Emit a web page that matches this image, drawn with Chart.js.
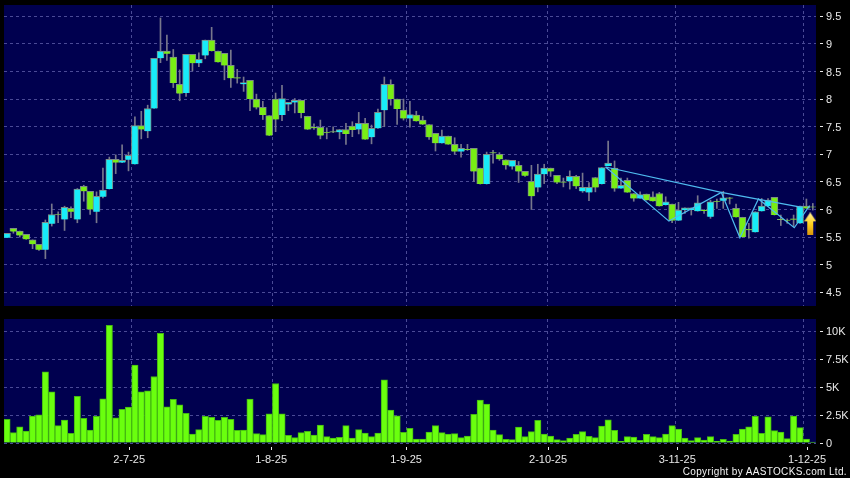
<!DOCTYPE html>
<html>
<head>
<meta charset="utf-8">
<script src="https://cdn.jsdelivr.net/npm/chart.js@4"></script>
<style>
html, body { margin: 0; padding: 0; background: #000; }
#wrap { position: relative; width: 850px; height: 478px; overflow: hidden; background: #000; }
#priceBox { position: absolute; left: 0; top: 0; width: 850px; height: 312px; }
#volBox { position: absolute; left: 0; top: 312px; width: 850px; height: 166px; }
#copy { position: absolute; right: 3px; top: 466px; font: 10px "Liberation Sans", Arial, sans-serif; letter-spacing: 0.35px; color: #f4f4f4; white-space: nowrap; }
</style>
</head>
<body>
<div id="wrap">
  <div id="priceBox"><canvas id="priceChart" width="850" height="312"></canvas></div>
  <div id="volBox"><canvas id="volChart" width="850" height="166"></canvas></div>
  <div id="copy">Copyright by AASTOCKS.com Ltd.</div>
</div>
<script>
// daily candles
const opens = [5.49,5.66,5.61,5.55,5.45,5.37,5.27,5.74,5.91,5.82,6.02,5.82,6.42,6.33,5.96,6.23,6.37,6.91,6.85,6.90,6.82,7.52,7.42,7.83,8.74,8.87,8.76,8.27,8.11,8.81,8.65,8.79,9.07,8.87,8.83,8.61,8.39,8.27,8.34,8.00,7.85,7.70,8.00,7.71,7.91,7.94,7.98,7.69,7.49,7.49,7.40,7.41,7.40,7.45,7.51,7.45,7.56,7.31,7.47,7.80,8.27,8.00,7.80,7.65,7.71,7.62,7.54,7.38,7.20,7.33,7.18,7.05,7.09,7.11,6.75,6.46,7.03,7.00,6.90,6.78,6.80,6.69,6.51,6.40,6.64,6.75,6.62,6.50,6.51,6.60,6.33,6.31,6.58,6.46,6.79,6.75,6.38,6.53,6.29,6.20,6.28,6.23,6.29,6.08,6.10,5.80,5.99,5.99,5.97,5.99,5.87,6.15,6.16,6.21,6.02,5.86,5.64,5.59,5.97,6.06,6.22,5.82,5.81,5.83,5.75,6.06,6.05];
const closes = [5.57,5.60,5.53,5.46,5.37,5.27,5.77,5.91,5.90,6.04,5.96,6.37,6.33,6.00,6.24,6.35,6.91,6.85,6.89,6.98,7.52,7.45,7.83,8.74,8.87,8.82,8.29,8.10,8.81,8.65,8.72,9.07,8.87,8.67,8.61,8.38,8.38,8.30,8.00,7.85,7.71,7.34,7.63,8.01,7.94,7.98,7.75,7.45,7.48,7.34,7.39,7.40,7.45,7.37,7.44,7.56,7.27,7.47,7.76,8.27,8.00,7.82,7.65,7.72,7.60,7.54,7.31,7.20,7.33,7.18,7.05,7.11,7.08,6.69,6.46,7.00,7.02,6.91,6.80,6.89,6.69,6.61,6.24,6.64,6.75,6.69,6.49,6.49,6.60,6.42,6.40,6.40,6.40,6.76,6.84,6.38,6.44,6.31,6.20,6.27,6.17,6.15,6.06,6.14,5.80,5.99,6.03,6.03,6.12,5.98,6.14,6.14,6.21,6.20,5.86,5.50,5.63,5.96,6.06,6.17,5.90,5.81,5.80,5.82,6.06,6.02,6.04];
const highs = [5.57,5.66,5.61,5.55,5.45,5.37,5.81,6.10,5.96,6.06,6.05,6.38,6.44,6.33,6.32,6.75,6.95,6.99,7.17,7.04,7.68,7.78,7.89,8.74,9.47,9.16,8.90,8.53,8.81,8.81,8.84,9.07,9.30,8.87,8.83,8.89,8.54,8.40,8.34,8.09,7.96,7.70,8.11,8.25,7.94,8.01,7.98,7.69,7.55,7.62,7.48,7.50,7.45,7.56,7.59,7.76,7.65,7.53,7.82,8.40,8.35,8.00,8.00,7.96,7.78,7.69,7.54,7.38,7.44,7.33,7.30,7.18,7.18,7.11,6.75,7.04,7.07,7.03,6.90,6.89,6.87,6.69,6.80,6.82,6.82,6.75,6.62,6.57,6.70,6.62,6.66,6.49,6.58,6.76,7.24,6.88,6.57,6.57,6.29,6.32,6.28,6.32,6.31,6.23,6.10,6.13,6.03,6.03,6.25,6.00,6.17,6.19,6.33,6.22,6.10,5.86,5.75,5.96,6.20,6.20,6.22,5.90,5.83,5.90,6.06,6.19,6.11];
const lows = [5.49,5.57,5.50,5.46,5.29,5.26,5.11,5.70,5.76,5.62,5.85,5.76,6.15,5.91,5.76,6.21,6.37,6.65,6.85,6.70,6.82,7.28,7.30,7.83,8.66,8.70,8.21,7.97,8.05,8.51,8.59,8.73,8.87,8.67,8.35,8.21,8.29,8.14,7.79,7.82,7.63,7.34,7.41,7.61,7.79,7.75,7.66,7.45,7.45,7.28,7.28,7.39,7.28,7.18,7.32,7.37,7.27,7.19,7.47,7.50,7.89,7.54,7.62,7.49,7.60,7.54,7.27,7.06,7.20,7.18,7.00,6.95,7.07,6.51,6.46,6.46,6.84,6.89,6.73,6.73,6.49,6.60,6.00,6.32,6.47,6.60,6.47,6.41,6.37,6.38,6.31,6.16,6.32,6.46,6.79,6.33,6.38,6.31,6.15,6.20,6.17,6.15,6.06,6.08,5.76,5.80,5.93,5.90,5.97,5.93,5.84,6.02,6.02,6.10,5.86,5.50,5.48,5.59,5.97,6.06,5.90,5.71,5.75,5.69,5.75,6.02,5.99];
const volumes = [2113,923,1458,1071,2410,2530,6370,4583,1548,2053,863,4166,2202,1160,2380,3958,10535,2262,3006,3214,6964,4583,4672,5952,9820,3244,3898,3422,2649,803,1190,2380,2292,2024,2292,2113,1131,1160,3928,833,744,2619,5327,2619,684,476,923,1042,714,1607,565,446,506,1548,446,1190,893,565,893,5654,2946,2440,952,1309,357,357,982,1548,923,803,833,476,625,2559,3839,3482,1160,744,327,298,1428,565,1012,2024,803,625,298,208,446,774,1012,595,476,1518,2083,1131,149,565,536,238,774,565,476,803,1548,1250,446,208,476,268,565,149,327,179,774,1250,1458,2380,863,2351,1101,982,387,2410,1369,357,89];

// drawn-in trend lines, candle index / price
const trendX = [93.6,111.7,124.3];
const trendY = [6.77,6.31,6.04];
const zigzagX = [93.6,103.5,111.7,114.6,117.5,123.1,125.5];
const zigzagY = [6.77,5.79,6.31,5.49,6.19,5.67,6.07];
const arrowAt = { x: 125.6, y: 5.74 };

const dateLabels = ['2-7-25','1-8-25','1-9-25','2-10-25','3-11-25','1-12-25'];
const dateTickIdx = [19.1,41.3,62.4,84.6,104.8,125.1];
const dateGridIdx = [19.45,41.5,62.45,84.45,104.5,124.5];
const priceTicks = [4.5,5,5.5,6,6.5,7,7.5,8,8.5,9,9.5];
const volumeTicks = [0,2500,5000,7500,10000];

const BG = '#00004f';
const GRID = '#4a4a96';
const CYAN = '#18ecf8';
const GREEN = '#78ee14';
const EDGE = '#7d8c86';
const WICK = '#77778c';
const VOLUME = '#6aff0e';
const VOL_EDGE = '#44b812';
const TICK = '#e8e8e8';
const LINE = '#4fbcf0';
const FONT = { family: '"Liberation Sans", Arial, sans-serif', size: 11 };
const X_MIN = -0.469, X_MAX = 126.5;

const idx = opens.map((_, i) => i);

const plotBg = {
    id: 'plotBg',
    beforeDraw(chart) {
        const a = chart.chartArea, c = chart.ctx;
        c.save();
        c.fillStyle = BG;
        c.fillRect(a.left, a.top, a.right - a.left, a.bottom - a.top);
        c.restore();
    }
};

// the yellow marker on the last candle
function makeArrow() {
    const cv = document.createElement('canvas');
    cv.width = 12; cv.height = 23;
    const c = cv.getContext('2d');
    const g = c.createLinearGradient(0, 0, 0, 23);
    g.addColorStop(0, '#fff2a0');
    g.addColorStop(0.5, '#ffd21f');
    g.addColorStop(1, '#d9940a');
    c.fillStyle = g;
    c.beginPath();
    c.moveTo(6, 0); c.lineTo(12, 9); c.lineTo(9, 9); c.lineTo(9, 23);
    c.lineTo(3, 23); c.lineTo(3, 9); c.lineTo(0, 9);
    c.closePath();
    c.fill();
    return cv;
}

function xScale(extra) {
    return Object.assign({ type: 'linear', offset: false, min: X_MIN, max: X_MAX }, extra);
}

// x axis that only carries the dashed vertical lines
function gridAxis() {
    return xScale({
        position: 'bottom',
        afterBuildTicks: ax => { ax.ticks = dateGridIdx.map(v => ({ value: v })); },
        afterFit: ax => { ax.height = 0; },
        ticks: { display: false },
        border: { display: false, dash: [3, 3] },
        grid: { color: GRID, offset: false, drawTicks: false, lineWidth: 1 }
    });
}

function yAxis(tickList, fmt, min, max) {
    return {
        position: 'right',
        min, max,
        afterBuildTicks: ax => { ax.ticks = tickList.map(v => ({ value: v })); },
        afterFit: ax => { ax.width = 34; ax.paddingTop = 0; ax.paddingBottom = 0; },
        ticks: { color: TICK, font: FONT, padding: 3, labelOffset: 1, callback: fmt },
        border: { display: false, dash: [3, 3] },
        grid: { color: GRID, tickColor: TICK, tickLength: 7, tickBorderDash: [0, 4, 3, 50] }
    };
}

new Chart(document.getElementById('priceChart'), {
    type: 'bar',
    data: {
        datasets: [
            {
                type: 'bubble', order: 0,
                data: [{ x: arrowAt.x, y: arrowAt.y, r: 12 }],
                pointStyle: makeArrow(),
                borderWidth: 0
            },
            {
                type: 'line', order: 1,
                data: trendX.map((x, i) => ({ x, y: trendY[i] })),
                borderColor: LINE, borderWidth: 1.2, pointRadius: 0, tension: 0
            },
            {
                type: 'line', order: 1,
                data: zigzagX.map((x, i) => ({ x, y: zigzagY[i] })),
                borderColor: LINE, borderWidth: 1.2, pointRadius: 0, tension: 0
            },
            {
                order: 2, grouped: false,
                data: idx.map(i => ({ x: i, y: [opens[i], closes[i]] })),
                backgroundColor: idx.map(i => closes[i] >= opens[i] ? CYAN : GREEN),
                borderColor: EDGE, borderWidth: 1, barThickness: 7
            },
            {
                order: 3, grouped: false,
                data: idx.map(i => ({ x: i, y: [lows[i], highs[i]] })),
                backgroundColor: WICK, barThickness: 1
            }
        ]
    },
    options: {
        responsive: false,
        animation: false,
        events: [],
        layout: { autoPadding: false, padding: { top: 5, left: 4, bottom: 6, right: 0 } },
        plugins: { legend: { display: false }, tooltip: { enabled: false } },
        scales: {
            x: gridAxis(),
            y: yAxis(priceTicks, v => String(v), 4.252, 9.705)
        }
    },
    plugins: [plotBg]
});

new Chart(document.getElementById('volChart'), {
    type: 'bar',
    data: {
        datasets: [{
            data: idx.map(i => ({ x: i, y: volumes[i] })),
            backgroundColor: VOLUME,
            borderColor: VOL_EDGE, borderWidth: 1, barThickness: 6.4
        }]
    },
    options: {
        responsive: false,
        animation: false,
        events: [],
        layout: { autoPadding: false, padding: { top: 7, left: 4, right: 0, bottom: 0 } },
        plugins: { legend: { display: false }, tooltip: { enabled: false } },
        scales: {
            x: xScale({
                position: 'bottom',
                afterBuildTicks: ax => { ax.ticks = dateTickIdx.map(v => ({ value: v })); },
                afterFit: ax => { ax.height = 35; ax.paddingRight = 0; ax.paddingLeft = 0; },
                ticks: {
                    color: TICK, font: FONT, padding: 3, maxRotation: 0, autoSkip: false,
                    callback: (v, i) => dateLabels[i]
                },
                border: { display: false },
                grid: { offset: false, drawOnChartArea: false, tickColor: TICK, tickLength: 7, tickBorderDash: [0, 4, 3, 50] }
            }),
            xg: gridAxis(),
            y: yAxis(volumeTicks, v => v ? (v / 1000) + 'K' : '0', 0, 11098)
        }
    },
    plugins: [plotBg]
});
</script>
</body>
</html>
